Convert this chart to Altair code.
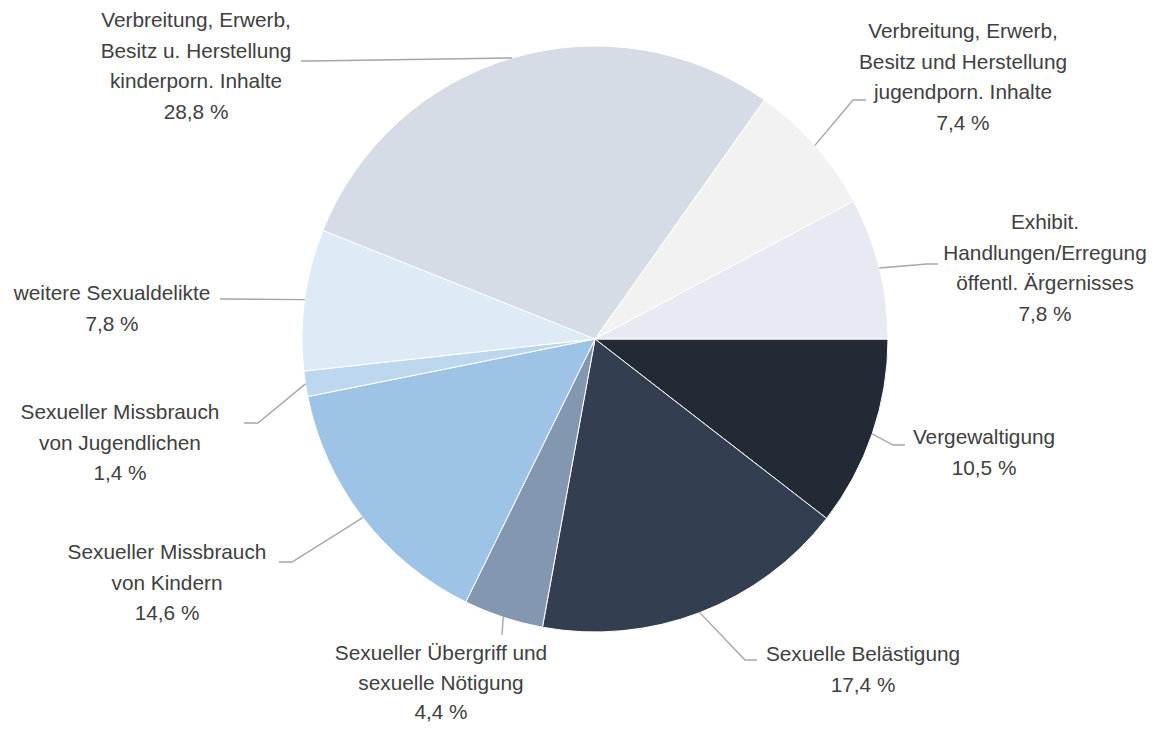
import math
import altair as alt
import pandas as pd

# ---- data ----
categories = [
    "Vergewaltigung",
    "Sexuelle Belästigung",
    "Sexueller Übergriff und sexuelle Nötigung",
    "Sexueller Missbrauch von Kindern",
    "Sexueller Missbrauch von Jugendlichen",
    "weitere Sexualdelikte",
    "Verbreitung, Erwerb, Besitz u. Herstellung kinderporn. Inhalte",
    "Verbreitung, Erwerb, Besitz und Herstellung jugendporn. Inhalte",
    "Exhibit. Handlungen/Erregung öffentl. Ärgernisses",
]
shares = [10.5, 17.4, 4.4, 14.6, 1.4, 7.8, 28.8, 7.4, 7.8]
share_texts = ["10,5 %", "17,4 %", "4,4 %", "14,6 %", "1,4 %", "7,8 %", "28,8 %", "7,4 %", "7,8 %"]
label_lines = [
    ["Vergewaltigung"],
    ["Sexuelle Belästigung"],
    ["Sexueller Übergriff und", "sexuelle Nötigung"],
    ["Sexueller Missbrauch", "von Kindern"],
    ["Sexueller Missbrauch", "von Jugendlichen"],
    ["weitere Sexualdelikte"],
    ["Verbreitung, Erwerb,", "Besitz u. Herstellung", "kinderporn. Inhalte"],
    ["Verbreitung, Erwerb,", "Besitz und Herstellung", "jugendporn. Inhalte"],
    ["Exhibit.", "Handlungen/Erregung", "öffentl. Ärgernisses"],
]
colors = ["#222a35", "#333f50", "#8497b0", "#9dc3e6", "#bdd7ee",
          "#deebf7", "#d6dce5", "#f2f2f2", "#e7eaf2"]

# ---- layout (page pixel coordinates) ----
CX, CY, R = 595, 339, 293
label_pos = [(984, 438), (863, 655), (441, 654), (167, 553), (120, 413),
             (112, 294), (196, 21), (963, 32), (1045, 223)]
label_line_h = [30.7, 30.7, 29.5, 30.7, 30.7, 30.7, 30.7, 30.7, 30.7]
leader_elbow = [(893, 445), (745, 660), (502, 635), (292, 562), (258, 423),
                (230, 299), (311, 61), (853, 100), (927, 264)]
leader_end = [(905, 445), (757, 660), (502, 635), (279, 562), (244, 423),
              (220, 299), (301, 61), (866, 100), (938, 264)]
FONT = "Liberation Sans"
FONT_SIZE = 20.8

slices = pd.DataFrame({"cat": categories, "share": shares, "idx": list(range(len(shares)))})

total = sum(shares)
rows_lines = []
rows_text = []
cum = 0.0
for i, s in enumerate(shares):
    mid = (cum + s / 2) / total
    cum += s
    ang = math.pi / 2 + mid * 2 * math.pi
    sx = CX + R * math.sin(ang)
    sy = CY - R * math.cos(ang)
    pts = [(sx, sy), leader_elbow[i], leader_end[i]]
    for k, (px, py) in enumerate(pts):
        rows_lines.append({"cat": categories[i], "pt": k, "px": px, "py": py})
    lx, ly = label_pos[i]
    for j, t in enumerate(label_lines[i] + [share_texts[i]]):
        rows_text.append({"cat": categories[i], "t": t, "px": lx,
                          "py": ly + j * label_line_h[i]})

lines_df = pd.DataFrame(rows_lines)
text_df = pd.DataFrame(rows_text)

W, H = 1143, 718
xs = alt.Scale(domain=[8, 8 + W], nice=False, zero=False)
ys = alt.Scale(domain=[8, 8 + H], nice=False, zero=False, reverse=True)

pie = alt.Chart(slices).mark_arc(outerRadius=R, stroke="white", strokeWidth=1).encode(
    theta=alt.Theta("share:Q", stack=True,
                    scale=alt.Scale(range=[math.pi / 2, math.pi / 2 + 2 * math.pi])),
    order=alt.Order("idx:Q", sort="ascending"),
    color=alt.Color("cat:N", scale=alt.Scale(domain=categories, range=colors), legend=None),
    x=alt.value(CX - 8),
    y=alt.value(CY - 8),
)

leaders = alt.Chart(lines_df).mark_line(color="#a6a6a6", strokeWidth=1.4).encode(
    x=alt.X("px:Q", scale=xs, axis=None),
    y=alt.Y("py:Q", scale=ys, axis=None),
    detail="cat:N",
    order="pt:Q",
)

labels = alt.Chart(text_df).mark_text(
    font=FONT, fontSize=FONT_SIZE, color="#404040", align="center", baseline="middle"
).encode(
    x=alt.X("px:Q", scale=xs, axis=None),
    y=alt.Y("py:Q", scale=ys, axis=None),
    text="t:N",
)

chart = alt.layer(pie, leaders, labels).properties(
    width=W, height=H, padding=0,
    autosize=alt.AutoSizeParams(type="none"),
).configure_view(stroke=None)

chart.save("out.html", embed_options={"renderer": "svg", "actions": False})
